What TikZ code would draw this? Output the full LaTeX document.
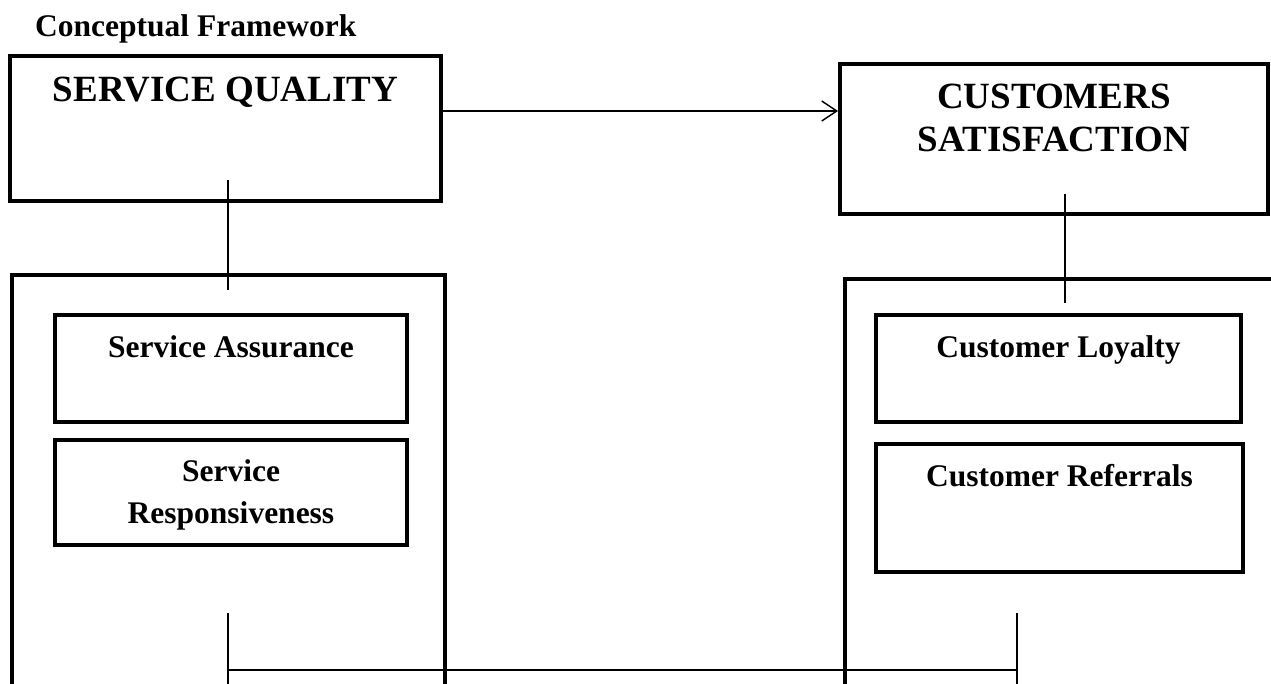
\documentclass[tikz,border=0pt]{standalone}
\usepackage{fontspec}
\setmainfont{Liberation Serif}
\usetikzlibrary{arrows.meta}
\begin{document}
\begin{tikzpicture}[x=1pt,y=-1pt,
  bigbox/.style={draw, line width=3.8pt, rectangle, inner sep=0pt},
  subbox/.style={draw, line width=3.2pt, rectangle, inner sep=0pt},
  conn/.style={line width=1.5pt},
  head/.style={font=\bfseries\fontsize{37}{43}\selectfont, anchor=base, align=center, inner sep=0pt},
  lbl/.style={font=\bfseries\fontsize{31.5}{42}\selectfont, anchor=base, align=center, inner sep=0pt}]
\useasboundingbox (0,0) rectangle (1271,684);
\clip (0,0) rectangle (1271,684);
\fill[white] (0,0) rectangle (1271,684);
% title
\node[lbl, anchor=base west] (title) at (35,37) {Conceptual Framework};
% top boxes
\node[bigbox, minimum width=431pt, minimum height=145pt] (sq) at (225.5,128.5) {};
\node[head] (sqt) at (225.5,102) {SERVICE QUALITY};
\node[bigbox, minimum width=428pt, minimum height=150pt] (cs) at (1054,139) {};
\node[head] (cst) at (1054,152) {CUSTOMERS\\SATISFACTION};
% arrow
\draw[conn, -{Straight Barb[length=15pt,width=20pt,line width=1.5pt]}] (sq.east |- 0,111) -- (cs.west |- 0,111);
% big lower boxes
\node[bigbox, minimum width=433pt, minimum height=500pt, anchor=north west] (lb) at (10,273) {};
\node[bigbox, minimum width=500pt, minimum height=500pt, anchor=north west] (rb) at (843,277) {};
% vertical connectors
\coordinate (l1) at (228,180);
\coordinate (l2) at (228,290);
\draw[conn] (l1) -- (l2);
\coordinate (r1) at (1065,194);
\coordinate (r2) at (1065,303);
\draw[conn] (r1) -- (r2);
% inner boxes left
\node[subbox, minimum width=352pt, minimum height=107pt] (sa) at (231,368.5) {};
\node[lbl] (sat) at (231,357) {Service Assurance};
\node[subbox, minimum width=352pt, minimum height=105pt] (sr) at (231,492.5) {};
\node[lbl] (srt) at (231,523) {Service\\Responsiveness};
% inner boxes right
\node[subbox, minimum width=365pt, minimum height=107pt] (cl) at (1058.5,368.5) {};
\node[lbl] (clt) at (1058.5,357) {Customer Loyalty};
\node[subbox, minimum width=367pt, minimum height=128pt] (cr) at (1059.5,508) {};
\node[lbl] (crt) at (1059.5,486) {Customer Referrals};
% bottom connector
\coordinate (b1) at (228,613);
\coordinate (b2) at (228,684);
\coordinate (b3) at (1017,613);
\coordinate (b4) at (1017,684);
\coordinate (h1) at (228,670);
\coordinate (h2) at (1017,670);
\draw[conn] (b1) -- (b2);
\draw[conn] (b3) -- (b4);
\draw[conn] (h1) -- (h2);
\end{tikzpicture}
\end{document}
